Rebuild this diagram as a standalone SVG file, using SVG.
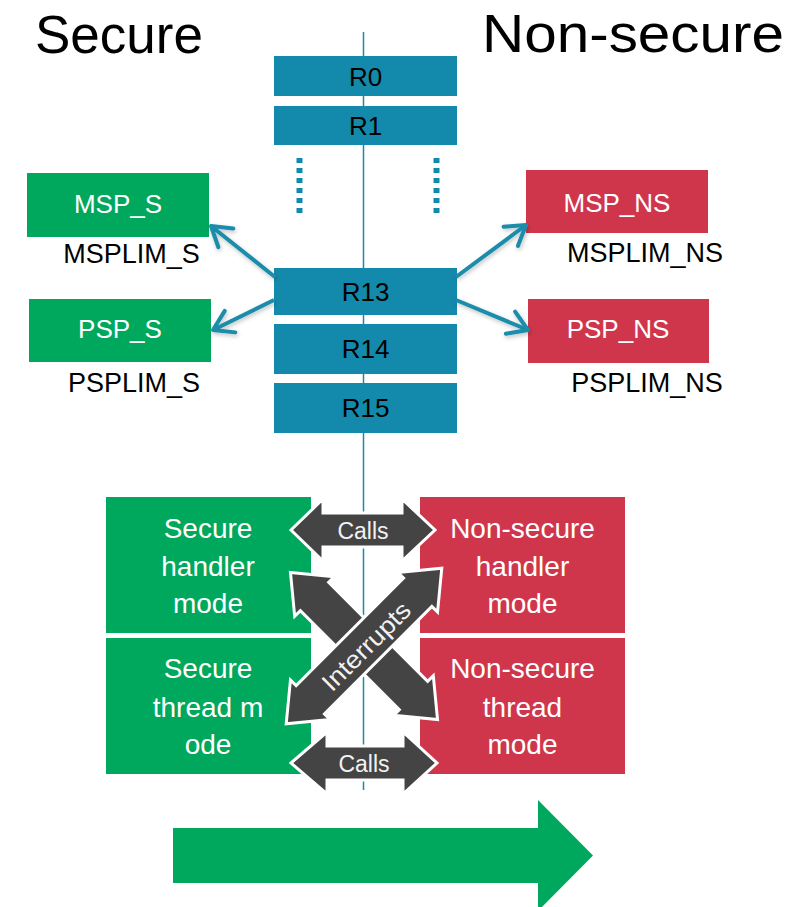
<svg xmlns="http://www.w3.org/2000/svg" width="812" height="907" viewBox="0 0 812 907">
<style>
text{font-family:"Liberation Sans",Arial,sans-serif;}
.title{font-size:53px;fill:#000;}
.reg{fill:#138aab;}
.regt{font-size:26px;fill:#000;text-anchor:middle;}
.sec{fill:#00a85d;}
.ns{fill:#d0364b;}
.wt{font-size:26px;fill:#fff;text-anchor:middle;}
.bt{font-size:27px;fill:#000;text-anchor:middle;}
.mt{font-size:28px;fill:#fff;text-anchor:middle;}
.ct{font-size:23px;fill:#f2f2f2;text-anchor:middle;}
.conn{stroke:#1a8cab;stroke-width:4;fill:none;marker-end:url(#chev);}
.dark{fill:#444;stroke:#fff;stroke-width:3;stroke-linejoin:miter;}
.dots{stroke:#138aab;stroke-width:6;stroke-dasharray:5 5;}
</style>
<defs>
<filter id="shadow" x="-20%" y="-20%" width="140%" height="140%">
<feDropShadow dx="1" dy="2" stdDeviation="2" flood-color="#000" flood-opacity="0.25"/>
</filter>
<marker id="chev" viewBox="0 0 24 28" refX="21" refY="14" markerWidth="24" markerHeight="28" markerUnits="userSpaceOnUse" orient="auto" overflow="visible">
<path d="M2,2 L21,14 L2,26" fill="none" stroke="#1a8cab" stroke-width="4" stroke-linecap="round" stroke-linejoin="round"/>
</marker>
</defs>
<rect width="812" height="907" fill="#fff"/>

<text class="title" x="35" y="53">Secure</text>
<text class="title" x="482" y="52" textLength="302" lengthAdjust="spacingAndGlyphs">Non-secure</text>

<line x1="363.5" y1="32" x2="363.5" y2="790" stroke="#1a8aaa" stroke-width="1.5"/>

<g id="dots">
<line class="dots" x1="299.5" y1="158" x2="299.5" y2="217"/>
<line class="dots" x1="436.5" y1="158" x2="436.5" y2="217"/>
</g>

<g id="R0"><rect class="reg" x="274" y="56" width="183" height="40"/><text class="regt" x="365.5" y="86">R0</text></g>
<g id="R1"><rect class="reg" x="274" y="106" width="183" height="39"/><text class="regt" x="365.5" y="135">R1</text></g>
<g id="R13"><rect class="reg" x="274" y="268" width="183" height="47"/><text class="regt" x="365.5" y="301">R13</text></g>
<g id="R14"><rect class="reg" x="274" y="324" width="183" height="50"/><text class="regt" x="365.5" y="358">R14</text></g>
<g id="R15"><rect class="reg" x="274" y="383" width="183" height="50"/><text class="regt" x="365.5" y="417">R15</text></g>

<g id="MSP_S"><rect class="sec" x="27" y="173" width="182" height="64"/><text class="wt" x="118" y="213">MSP_S</text><text class="bt" x="131.5" y="263">MSPLIM_S</text></g>
<g id="PSP_S"><rect class="sec" x="29" y="299" width="182" height="63"/><text class="wt" x="120" y="338">PSP_S</text><text class="bt" x="134" y="392">PSPLIM_S</text></g>
<g id="MSP_NS"><rect class="ns" x="526" y="170" width="182" height="63"/><text class="wt" x="617" y="212">MSP_NS</text><text class="bt" x="645" y="262">MSPLIM_NS</text></g>
<g id="PSP_NS"><rect class="ns" x="528" y="299" width="181" height="64"/><text class="wt" x="618" y="338">PSP_NS</text><text class="bt" x="647" y="392">PSPLIM_NS</text></g>

<g id="connectors" filter="url(#shadow)">
<line class="conn" x1="275" y1="277" x2="211" y2="226"/>
<line class="conn" x1="274" y1="300" x2="213" y2="330"/>
<line class="conn" x1="456" y1="277" x2="526" y2="225"/>
<line class="conn" x1="456" y1="300" x2="528" y2="330"/>
</g>

<g id="sec_handler"><rect class="sec" x="106" y="497" width="205" height="136"/>
<text class="mt" x="208" y="538">Secure</text><text class="mt" x="208" y="576">handler</text><text class="mt" x="208" y="613">mode</text></g>
<g id="sec_thread"><rect class="sec" x="106" y="638" width="205" height="136"/>
<text class="mt" x="208" y="678">Secure</text><text class="mt" x="208" y="717">thread m</text><text class="mt" x="208" y="754">ode</text></g>
<g id="ns_handler"><rect class="ns" x="420" y="497" width="205" height="136"/>
<text class="mt" x="522.5" y="538">Non-secure</text><text class="mt" x="522.5" y="576">handler</text><text class="mt" x="522.5" y="613">mode</text></g>
<g id="ns_thread"><rect class="ns" x="420" y="638" width="205" height="136"/>
<text class="mt" x="522.5" y="678">Non-secure</text><text class="mt" x="522.5" y="717">thread</text><text class="mt" x="522.5" y="754">mode</text></g>

<g id="calls_top">
<path class="dark" d="M291,530 L323,499 L323,513 L402,513 L402,499 L435,530 L402,561 L402,547 L323,547 L323,561 Z"/>
<text class="ct" x="363" y="539">Calls</text>
</g>
<g id="interrupts">
<path class="dark" transform="translate(364,646) rotate(45)" d="M-104,0 L-70,-28 L-70,-20 L70,-20 L70,-28 L104,0 L70,28 L70,20 L-70,20 L-70,28 Z"/>
<path class="dark" transform="translate(364,646) rotate(-45)" d="M-110,0 L-76,-28 L-76,-20 L76,-20 L76,-28 L110,0 L76,28 L76,20 L-76,20 L-76,28 Z"/>
<text class="ct" font-size="25" transform="translate(366,646) rotate(-45)" x="0" y="9" textLength="114" lengthAdjust="spacingAndGlyphs" style="font-size:25px">Interrupts</text>
</g>
<g id="calls_bottom">
<path class="dark" d="M291,763 L327,732 L327,746 L403,746 L403,732 L437,763 L403,794 L403,780 L327,780 L327,794 Z"/>
<text class="ct" x="364" y="772">Calls</text>
</g>

<g id="big_arrow">
<path fill="#00a85d" d="M173,828 L538,828 L538,800 L593,855.5 L538,911 L538,883 L173,883 Z"/>
</g>
</svg>
